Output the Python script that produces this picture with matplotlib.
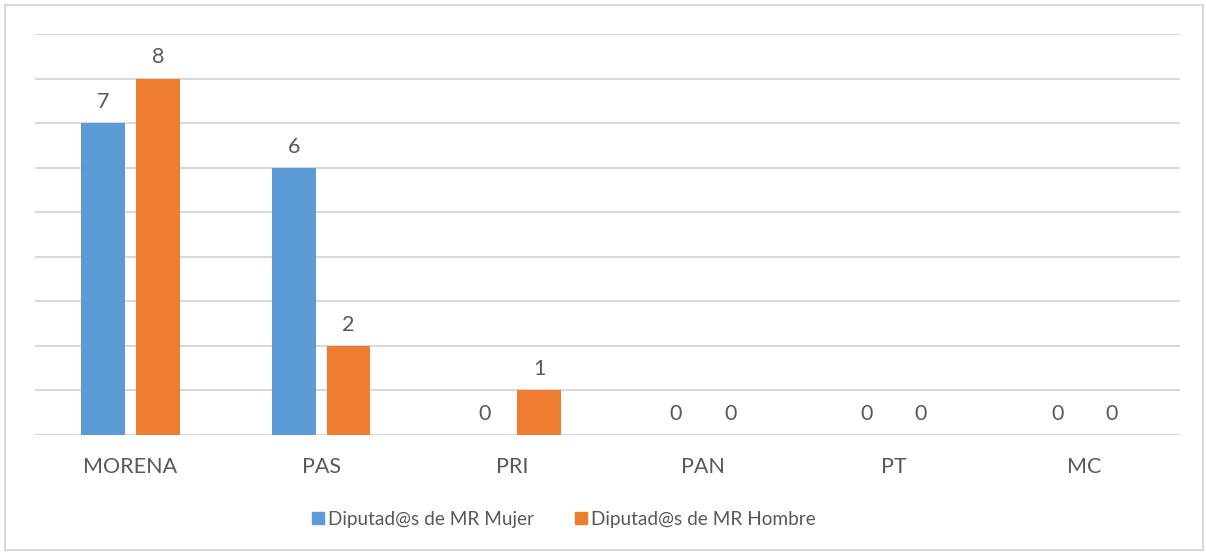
import matplotlib.pyplot as plt
import numpy as np
from matplotlib.patches import Rectangle
from matplotlib.lines import Line2D

plt.rcParams['font.family'] = ['Lato', 'DejaVu Sans']

partidos = ['MORENA', 'PAS', 'PRI', 'PAN', 'PT', 'MC']
mujer = [7, 6, 0, 0, 0, 0]
hombre = [8, 2, 1, 0, 0, 0]
series_names = ['Diputad@s de MR Mujer', 'Diputad@s de MR Hombre']

blue = '#5B9BD5'
orange = '#ED7D31'
txt = '#595959'
grid = '#D9D9D9'

fig = plt.figure(figsize=(12.06, 5.53), dpi=100)
fig.patches.append(Rectangle((5/1206, 3/553), 1198/1206, 545/553, transform=fig.transFigure,
                             fill=False, edgecolor=grid, linewidth=1.5))
ax = fig.add_axes([35/1206, 1 - 435/553, 1145/1206, 401/553])

x = np.arange(len(partidos))
w = 0.23
off = 0.143
b1 = ax.bar(x - off, mujer, w, color=blue, zorder=3)
b2 = ax.bar(x + off, hombre, w, color=orange, zorder=3)

for bars, vals in [(b1, mujer), (b2, hombre)]:
    for b, v in zip(bars, vals):
        ax.annotate(str(v), (b.get_x() + b.get_width() / 2, v), xytext=(0, 8),
                    textcoords='offset points', ha='center', va='bottom',
                    fontsize=15.5, color=txt)

ax.set_xlim(-0.5, len(partidos) - 0.5)
ax.set_ylim(0, 9)
ax.set_yticks(range(0, 10))
ax.yaxis.grid(True, color=grid, linewidth=1.5, zorder=0)
ax.set_yticklabels([])
ax.tick_params(axis='y', length=0)
ax.set_xticks(x)
ax.set_xticklabels(partidos, fontsize=15.5, color=txt)
ax.tick_params(axis='x', length=0, pad=16)
for s in ax.spines.values():
    s.set_visible(False)

handles = [Line2D([], [], marker='s', linestyle='', color=c, markersize=8.5)
           for c in (blue, orange)]
fig.legend(handles, series_names, loc='center', bbox_to_anchor=(562/1206, 1 - 519/553),
           ncol=2, frameon=False, fontsize=13.7, labelcolor=txt, handletextpad=0.0,
           columnspacing=2.0, handlelength=1.0)

fig.savefig('out.png', dpi=100)
